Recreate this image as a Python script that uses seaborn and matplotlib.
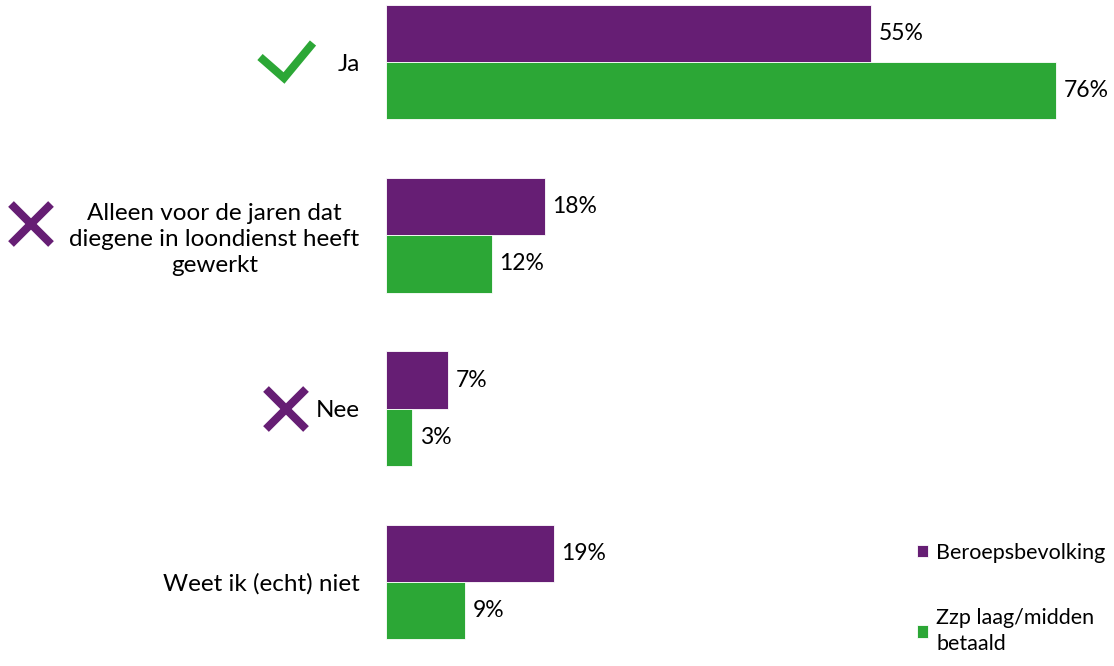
import matplotlib
matplotlib.use("Agg")
import matplotlib.pyplot as plt
from matplotlib.lines import Line2D
import pandas as pd
import seaborn as sns

# answers and the two groups
categories = ["Ja",
              "Alleen voor de jaren dat\ndiegene in loondienst heeft\ngewerkt",
              "Nee",
              "Weet ik (echt) niet"]
groups = ["Beroepsbevolking", "Zzp laag/midden\nbetaald"]
beroeps = [55, 18, 7, 19]
zzp = [76, 12, 3, 9]

purple = "#661E74"
green = "#2CA736"

W, H = 1114, 666

df = pd.DataFrame({
    "antwoord": categories * 2,
    "groep": [groups[0]] * 4 + [groups[1]] * 4,
    "pct": beroeps + zzp,
})

sns.set_theme(style="white")
plt.rcParams["font.family"] = ["Lato", "DejaVu Sans"]

fig = plt.figure(figsize=(W / 100, H / 100), dpi=100)
ax = fig.add_axes([386 / W, 0, 1 - 386 / W, 1])

sns.barplot(data=df, x="pct", y="antwoord", hue="groep", orient="h",
            palette=[purple, green], width=0.66, ax=ax, legend=True,
            saturation=1, edgecolor="white", linewidth=0.6)

for cont in ax.containers:
    ax.bar_label(cont, labels=[f"{v:.0f}%" for v in cont.datavalues],
                 padding=5.5, fontsize=16.5, color="black")

ax.set_xlim(0, (W - 386) / 8.82)
ax.set_ylim(3.485, -0.358)
ax.set_xlabel("")
ax.set_ylabel("")
ax.set_xticks([])
sns.despine(ax=ax, left=True, bottom=True)
ax.tick_params(axis="y", length=0, pad=19)
for lab in ax.get_yticklabels():
    lab.set_fontsize(17.5)
    lab.set_multialignment("center")
    lab.set_linespacing(1.28)
    lab.set_color("black")

leg = ax.legend(loc="upper left", bbox_to_anchor=(906 / W, 1 - 532 / H),
                bbox_transform=fig.transFigure, frameon=False,
                handlelength=0.5, handleheight=0.5, handletextpad=0.4,
                labelspacing=2.1, fontsize=15.5, borderpad=0,
                labelcolor="black")
for t in leg.get_texts():
    t.set_linespacing(1.4)


# icons next to the answers, in pixel coords (top-left origin)
def icon(xs, ys, color, lw):
    fx = [x / W for x in xs]
    fy = [1 - y / H for y in ys]
    fig.add_artist(Line2D(fx, fy, transform=fig.transFigure, color=color,
                          lw=lw, solid_capstyle="butt", solid_joinstyle="miter"))


icon([260, 284, 313], [57, 78, 43], green, 5.8)
icon([11, 51], [204, 244], purple, 5.8)
icon([11, 51], [244, 204], purple, 5.8)
icon([266, 306], [389, 429], purple, 5.8)
icon([266, 306], [429, 389], purple, 5.8)

fig.savefig("out.png", dpi=100)
